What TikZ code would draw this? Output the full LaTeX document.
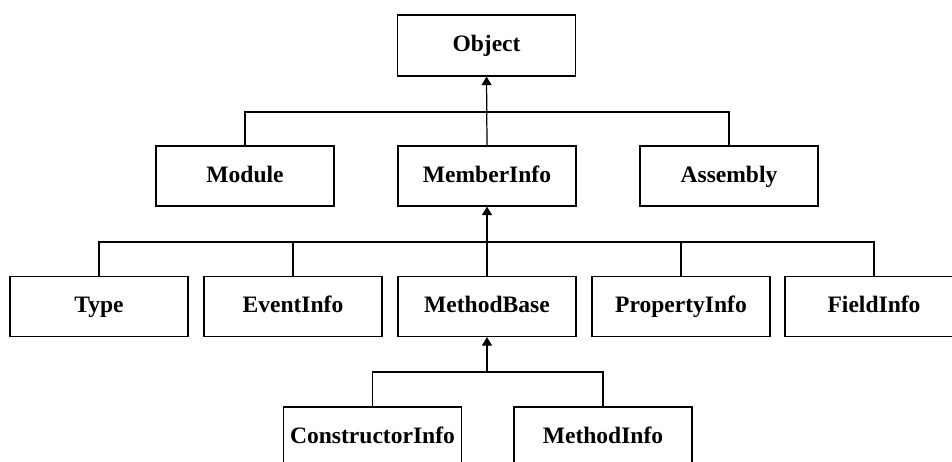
\documentclass[tikz,border=0pt]{standalone}
\usepackage{fontspec}
\setmainfont{Liberation Serif}
\usepackage{tikz}
\usetikzlibrary{arrows.meta}

\begin{document}
\begin{tikzpicture}[x=0.02cm,y=-0.02cm,
  cls/.style={draw,line width=0.7pt,minimum width=3.56cm,minimum height=1.2cm,
    inner sep=0pt,text height=0.85em,text depth=0.12em,
    font=\fontsize{13.4}{16}\selectfont\bfseries},
  inherit/.style={-{Triangle[width=0.2cm,length=0.17cm]}}]
\clip (0,0) rectangle (952,461);
\node[cls,minimum height=1.22cm] (Object) at (486.5,45.5) {Object};
\node[cls] (Module) at (245,176) {Module};
\node[cls] (MemberInfo) at (487,176) {MemberInfo};
\node[cls] (Assembly) at (729,176) {Assembly};
\node[cls] (Type) at (99,306.5) {Type};
\node[cls] (EventInfo) at (293,306.5) {EventInfo};
\node[cls] (MethodBase) at (487,306.5) {MethodBase};
\node[cls] (PropertyInfo) at (681,306.5) {PropertyInfo};
\node[cls] (FieldInfo) at (874,306.5) {FieldInfo};
\node[cls] (ConstructorInfo) at (372.5,437) {ConstructorInfo};
\node[cls] (MethodInfo) at (603,437) {MethodInfo};
\coordinate (bus1) at (487,112);
\coordinate (bus2) at (487,242);
\coordinate (bus3) at (487,372);
\begin{scope}[line width=0.7pt]
\draw (Module.north) |- (bus1) -| (Assembly.north);
\draw[inherit] (MemberInfo.north) -- (Object.south);
\draw (Type.north) |- (bus2) -| (FieldInfo.north);
\draw \foreach \c in {EventInfo,PropertyInfo} {(\c.north) -- (\c.north |- bus2)};
\draw[inherit] (MethodBase.north) -- (MemberInfo.south);
\draw (ConstructorInfo.north) |- (bus3) -| (MethodInfo.north);
\draw[inherit] (bus3) -- (MethodBase.south);
\end{scope}
\end{tikzpicture}
\end{document}
